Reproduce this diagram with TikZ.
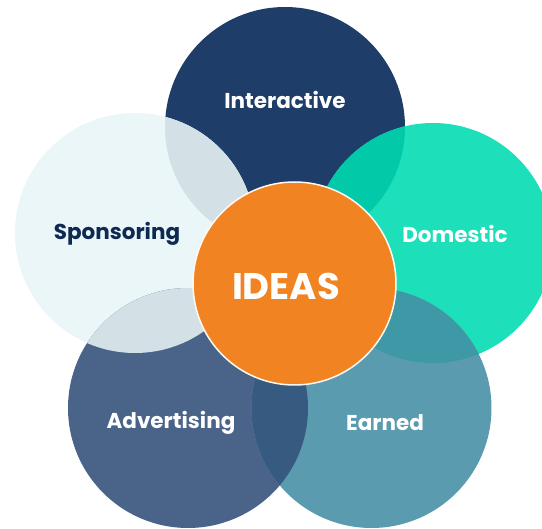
\documentclass[tikz,border=0pt]{standalone}
\usepackage{fontspec}
\setmainfont{Poppins}
\definecolor{cInt}{HTML}{1F3D69}
\definecolor{cSpo}{HTML}{EAF6F7}
\definecolor{cDom}{HTML}{1DE0BA}
\definecolor{cAdv}{HTML}{4A6489}
\definecolor{cEar}{HTML}{5A9BB0}
\definecolor{cIdea}{HTML}{F28322}
\definecolor{oSI}{HTML}{D3E1E7}
\definecolor{oDI}{HTML}{02C9A8}
\definecolor{oSA}{HTML}{D3E1E7}
\definecolor{oED}{HTML}{3E98A6}
\definecolor{oAE}{HTML}{365A80}
\definecolor{txtDark}{HTML}{0E2A52}
\tikzset{
  lbl/.style={font=\bfseries\fontsize{21.5}{23}\selectfont, text=white, inner sep=0pt},
  biglbl/.style={font=\bfseries\fontsize{37}{40}\selectfont, text=white, inner sep=0pt},
}
\begin{document}
\begin{tikzpicture}[x=1pt,y=-1pt]
\useasboundingbox (0,0) rectangle (542,529);
\coordinate (cI) at (285,127);
\coordinate (cS) at (135,233);
\coordinate (cD) at (433,243);
\coordinate (cA) at (188,408);
\coordinate (cE) at (371.5,408);
\coordinate (cC) at (294.5,283.5);
% base circles
\fill[cInt] (cI) circle (120pt);
\fill[cSpo] (cS) circle (120pt);
\fill[cDom] (cD) circle (120pt);
\fill[cAdv] (cA) circle (120pt);
\fill[cEar] (cE) circle (120pt);
% overlaps
\begin{scope}\clip (cI) circle (120pt); \fill[oSI] (cS) circle (120pt);\end{scope}
\begin{scope}\clip (cI) circle (120pt); \fill[oDI] (cD) circle (120pt);\end{scope}
\begin{scope}\clip (cS) circle (120pt); \fill[oSA] (cA) circle (120pt);\end{scope}
\begin{scope}\clip (cD) circle (120pt); \fill[oED] (cE) circle (120pt);\end{scope}
\begin{scope}\clip (cA) circle (120pt); \fill[oAE] (cE) circle (120pt);\end{scope}
% centre
\fill[cIdea, draw=white!95!orange, line width=1.5pt] (cC) circle (101.5pt);
% labels
\node[lbl] (tI) at (285,100) {Interactive};
\node[lbl, text=txtDark] (tS) at (117,234) {Sponsoring};
\node[lbl] (tD) at (455,234) {Domestic};
\node[lbl] (tA) at (171,423) {Advertising};
\node[lbl] (tE) at (385,423) {Earned};
\node[biglbl] (tC) at (286,286) {IDEAS};
\end{tikzpicture}
\end{document}
